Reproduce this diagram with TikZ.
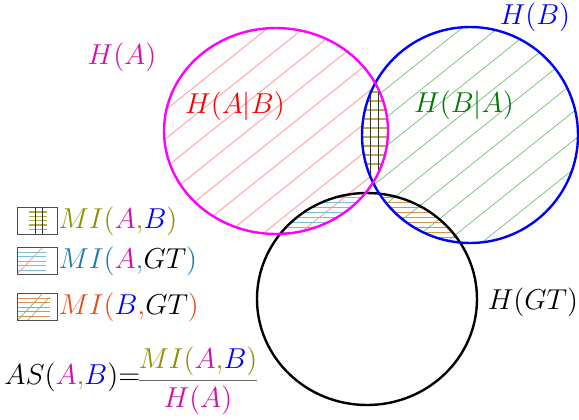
\documentclass[tikz,border=0pt]{standalone}
\usetikzlibrary{positioning}
\definecolor{mMag}{HTML}{FF00FF}
\definecolor{mMagText}{HTML}{D010A8}
\definecolor{mOlive}{HTML}{8F8F00}
\definecolor{mTeal}{HTML}{1A7DAA}
\definecolor{mOrange}{HTML}{E0501A}
\definecolor{mGreenText}{HTML}{007A00}
\newcommand{\lA}{\textcolor{mMagText}{A}}
\newcommand{\lB}{\textcolor{blue}{B}}
\newcommand{\lGT}{\textcolor{black}{GT}}

\begin{document}
\begin{tikzpicture}[x=0.5pt, y=-0.5pt,
  lbl/.style={font=\fontsize{13.5}{16}\selectfont, inner sep=0pt},
  leg/.style={font=\fontsize{13.5}{16}\selectfont, inner sep=0pt, anchor=west},
  swatch/.style={draw=black!70, line width=0.6pt, minimum width=20pt,
                 minimum height=13.5pt, inner sep=0pt, anchor=north west},
  setA/.style={insert path={(276,131) ellipse [x radius=112, y radius=103]}},
  setB/.style={insert path={(470,135) ellipse [x radius=108, y radius=108]}},
  setGT/.style={insert path={(367,299) ellipse [x radius=110, y radius=106]}},
  hatchRed/.style={draw=red!45, line width=0.35pt},
  hatchGreen/.style={draw=green!50!black!55, line width=0.35pt},
  hatchCyan/.style={draw=cyan!55!teal!60, line width=0.5pt},
  hatchBrown/.style={draw=brown!75!orange!85, line width=0.5pt},
  hatchOlive/.style={draw=olive!65, line width=0.6pt},
]
  \useasboundingbox (0,0) rectangle (579,419);

  % H(A|B)
  \begin{scope}[even odd rule]
    \clip[setA];
    \clip[setB] (0,0) rectangle (579,419);
    \foreach \k in {-5,...,15}
      \draw[hatchRed] (\k*36,300) -- ++(400,-320);
  \end{scope}
  % H(B|A)
  \begin{scope}[even odd rule]
    \clip[setB];
    \clip[setA] (0,0) rectangle (579,419);
    \foreach \k in {-5,...,15}
      \draw[hatchGreen] (\k*36+14,300) -- ++(400,-320);
  \end{scope}
  % MI(A,B)
  \begin{scope}
    \clip[setA];
    \clip[setB];
    \foreach \k in {0,...,8}
      \draw[hatchOlive] (355,92+\k*9) -- ++(40,0);
    \foreach \x in {370,378}
      \draw[black!80, line width=0.5pt] (\x,80) -- (\x,175);
  \end{scope}
  % MI(A,GT)
  \begin{scope}[even odd rule]
    \clip[setA];
    \clip[setGT];
    \clip[setB] (0,0) rectangle (579,419);
    \foreach \k in {0,...,9}
      \draw[hatchCyan] (250,192+\k*5) -- ++(150,0);
  \end{scope}
  % MI(B,GT)
  \begin{scope}[even odd rule]
    \clip[setB];
    \clip[setGT];
    \clip[setA] (0,0) rectangle (579,419);
    \foreach \k in {0,...,10}
      \draw[hatchBrown] (350,192+\k*5) -- ++(150,0);
  \end{scope}

  \draw[black, line width=1.2pt, setGT];
  \draw[blue, line width=1.2pt, setB];
  \draw[mMag, line width=1.2pt, setA];

  \node[lbl, text=mMagText] (hA) at (122,57) {$H(A)$};
  \node[lbl, text=blue] (hB) at (535,17) {$H(B)$};
  \node[lbl, text=red] (hAgB) at (235,106) {$H(A|B)$};
  \node[lbl, text=mGreenText] (hBgA) at (464,105) {$H(B|A)$};
  \node[lbl] (hGT) at (533,302) {$H(GT)$};

  % legend
  \node[swatch] (swAB) at (17,207) {};
  \foreach \k in {0,...,4}
    \draw[hatchOlive] (29,212+\k*4.3) -- (47,212+\k*4.3);
  \draw[black!80, line width=0.5pt] (35,207) -- (35,234) (42,207) -- (42,234);
  \node[leg, text=mOlive, right=0pt of swAB] (miAB) {$MI(\lA{,}\lB)$};

  \node[swatch] (swAGT) at (17,247) {};
  \foreach \k in {0,...,4}
    \draw[hatchCyan] (18,252+\k*4.5) -- (46,252+\k*4.5);
  \draw[hatchRed] (18,273) -- (42,248);
  \node[leg, text=mTeal, right=0pt of swAGT] (miAGT) {$MI(\lA{,}\lGT)$};

  \node[swatch] (swBGT) at (17,293) {};
  \foreach \k in {0,...,4}
    \draw[hatchBrown] (18,298+\k*4.6) -- (50,298+\k*4.6);
  \draw[hatchGreen] (18,320) -- (43,293) (28,320) -- (50,297);
  \node[leg, text=mOrange, right=0pt of swBGT] (miBGT) {$MI(\lB{,}\lGT)$};

  % AS(A,B)
  \node[leg] (asLhs) at (4,377) {$AS(\lA\textcolor{mOlive}{{,}}\lB){=}$};
  \node[font=\fontsize{13.5}{16}\selectfont, inner sep=0pt, anchor=base,
        text=black!60] (asFrac) at (198,388)
    {$\displaystyle\frac{\textcolor{mOlive}{MI(\lA{,}\lB)}}
                        {\textcolor{mMagText}{H(A)}}$};
\end{tikzpicture}
\end{document}
